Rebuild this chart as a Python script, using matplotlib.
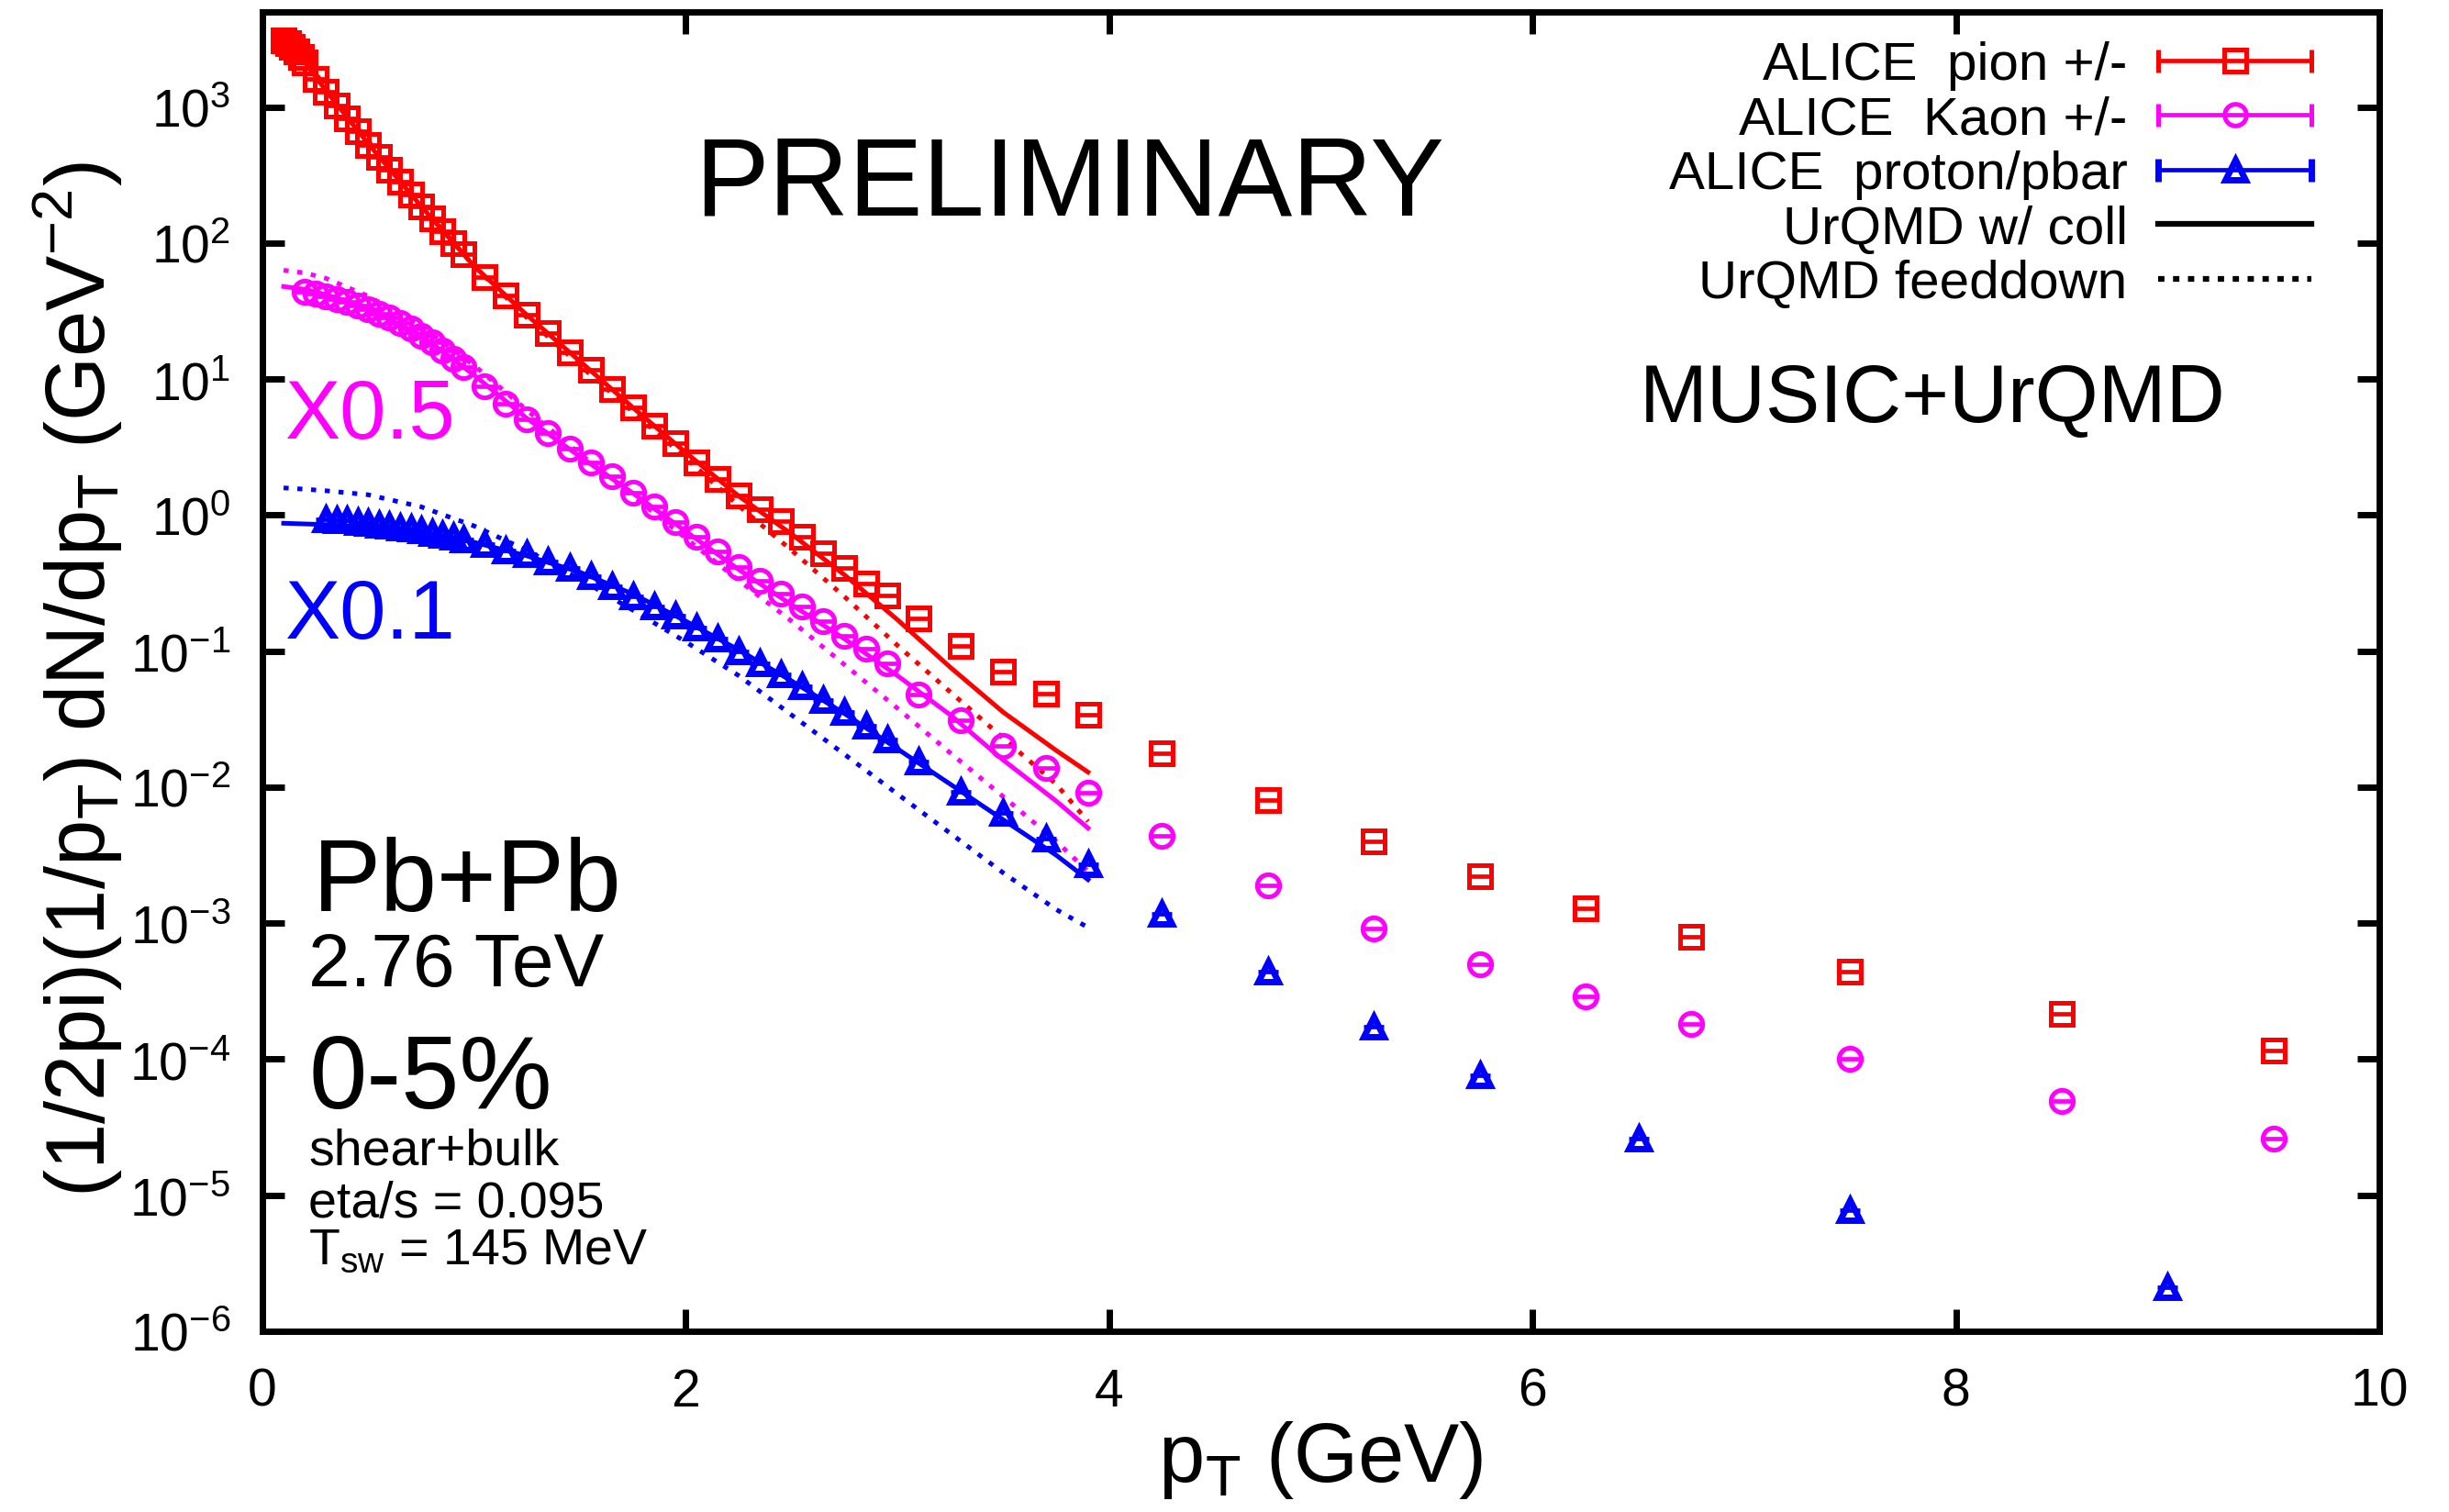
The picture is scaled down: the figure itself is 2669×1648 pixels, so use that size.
import numpy as np
import matplotlib
matplotlib.use('Agg')
import matplotlib.pyplot as plt
from matplotlib.ticker import FixedLocator, NullLocator, FuncFormatter
from matplotlib.legend_handler import HandlerErrorbar
from matplotlib.lines import Line2D

plt.rcParams['font.family'] = 'Liberation Sans'
plt.rcParams['mathtext.fontset'] = 'custom'
plt.rcParams['mathtext.rm'] = 'Liberation Sans'

# ---------------- data ----------------
# ALICE data points (kaons scaled x0.5, protons x0.1)
pt_pi = [0.10, 0.12, 0.14, 0.16, 0.18, 0.20, 0.25, 0.30, 0.35, 0.40, 0.45, 0.50,
         0.55, 0.60, 0.65, 0.70, 0.75, 0.80, 0.85, 0.90, 0.95, 1.05, 1.15, 1.25,
         1.35, 1.45, 1.55, 1.65, 1.75, 1.85, 1.95, 2.05, 2.15, 2.25, 2.35, 2.45,
         2.55, 2.65, 2.75, 2.85, 2.95, 3.1, 3.3, 3.5, 3.7, 3.9,
         4.25, 4.75, 5.25, 5.75, 6.25, 6.75, 7.5, 8.5, 9.5]
pion = [3090, 2950, 2750, 2570, 2340, 2140, 1620, 1290, 1020, 830, 660, 525,
        430, 347, 282, 229, 186, 151, 123, 100, 83, 56, 41, 29.5,
        21.9, 15.8, 11.7, 8.5, 6.2, 4.57, 3.39, 2.45, 1.84, 1.40, 1.10, 0.90,
        0.69, 0.525, 0.41, 0.316, 0.257, 0.174, 0.110, 0.0708, 0.049, 0.034,
        0.0178, 0.0080, 0.0040, 0.0022, 0.00128, 0.00080, 0.00044, 0.000215, 0.000115]

pt_ka = [0.20, 0.25, 0.30, 0.35, 0.40, 0.45, 0.50, 0.55, 0.60, 0.65, 0.70, 0.75,
         0.80, 0.85, 0.90, 0.95, 1.05, 1.15, 1.25, 1.35, 1.45, 1.55, 1.65, 1.75,
         1.85, 1.95, 2.05, 2.15, 2.25, 2.35, 2.45, 2.55, 2.65, 2.75, 2.85, 2.95,
         3.1, 3.3, 3.5, 3.7, 3.9,
         4.25, 4.75, 5.25, 5.75, 6.25, 6.75, 7.5, 8.5, 9.5]
kaon = [43.7, 42.7, 40.7, 38.9, 36.7, 34.7, 32.4, 30.2, 28.2, 25.7, 23.4, 20.9,
        18.6, 16.2, 14.1, 12.3, 8.9, 6.6, 5.1, 3.98, 3.09, 2.45, 1.93, 1.46,
        1.15, 0.89, 0.69, 0.537, 0.417, 0.331, 0.263, 0.214, 0.166, 0.130, 0.105, 0.081,
        0.048, 0.031, 0.020, 0.0138, 0.0091,
        0.0044, 0.0019, 0.00092, 0.00050, 0.00029, 0.000181, 0.000100, 0.000049, 0.000026]

pt_pr = [0.30, 0.35, 0.40, 0.45, 0.50, 0.55, 0.60, 0.65, 0.70, 0.75, 0.80, 0.85,
         0.90, 0.95, 1.05, 1.15, 1.25, 1.35, 1.45, 1.55, 1.65, 1.75, 1.85, 1.95,
         2.05, 2.15, 2.25, 2.35, 2.45, 2.55, 2.65, 2.75, 2.85, 2.95,
         3.1, 3.3, 3.5, 3.7, 3.9,
         4.25, 4.75, 5.25, 5.75, 6.5, 7.5, 9.0]
proton = [0.933, 0.923, 0.912, 0.891, 0.871, 0.851, 0.832, 0.813, 0.794, 0.767, 0.741, 0.716,
          0.692, 0.661, 0.61, 0.55, 0.513, 0.457, 0.407, 0.355, 0.302, 0.254, 0.214, 0.182,
          0.150, 0.123, 0.100, 0.081, 0.068, 0.055, 0.0437, 0.0355, 0.0282, 0.0224,
          0.0155, 0.0093, 0.0065, 0.0042, 0.0027,
          0.00117, 0.00044, 0.000174, 0.000076, 0.000026, 0.0000078, 0.0000021]

# UrQMD model curves
pt_model = [0.1, 0.2, 0.3, 0.5, 0.75, 1.0, 1.25, 1.5, 1.75, 2.0, 2.25, 2.5,
            2.75, 3.0, 3.25, 3.5, 3.75, 3.9]
pion_coll = [3300, 2140, 1320, 537, 186, 67.6, 29.5, 13.5, 6.17, 2.88, 1.38, 0.724,
             0.363, 0.170, 0.0759, 0.0355, 0.0186, 0.0129]
pion_feed = [3550, 2290, 1380, 562, 190, 67.6, 28.2, 12.6, 5.75, 2.63, 1.17, 0.55,
             0.251, 0.110, 0.050, 0.0229, 0.0105, 0.0056]
kaon_coll = [47.9, 45.7, 41.7, 33.1, 20.9, 10.7, 5.13, 2.69, 1.45, 0.759, 0.398, 0.219,
             0.123, 0.066, 0.0339, 0.0158, 0.0079, 0.0050]
kaon_feed = [63.1, 60.3, 55.0, 40.7, 24.5, 12.6, 5.89, 2.82, 1.38, 0.676, 0.331, 0.166,
             0.0794, 0.038, 0.0178, 0.0085, 0.0040, 0.0024]
proton_coll = [0.871, 0.861, 0.851, 0.813, 0.741, 0.631, 0.501, 0.380, 0.263, 0.166, 0.102, 0.0603,
               0.0347, 0.0191, 0.0105, 0.00575, 0.00316, 0.00209]
proton_feed = [1.585, 1.55, 1.51, 1.41, 1.15, 0.832, 0.55, 0.339, 0.20, 0.117, 0.066, 0.0339,
               0.0174, 0.0089, 0.00457, 0.00234, 0.00126, 0.00093]

RED, MAG, BLUE = '#ff0000', '#ff00ff', '#0000ff'

fig = plt.figure(figsize=(26.69, 16.49), dpi=100)
ax = fig.add_axes([0.10716, 0.11947, 0.86437, 0.87204])
ax.set_yscale('log')

# model curves
dots = (0, (1.1, 1.9))
for pts, c in [(pion_coll, RED), (kaon_coll, MAG), (proton_coll, BLUE)]:
    ax.plot(pt_model, pts, color=c, lw=3.6, zorder=2)
for pts, c in [(pion_feed, RED), (kaon_feed, MAG), (proton_feed, BLUE)]:
    ax.plot(pt_model, pts, color=c, lw=3.6, ls=dots, zorder=2)

# data points
series = [(pt_pi, pion, 's', RED, 17.5, 3.6),
          (pt_ka, kaon, 'o', MAG, 17.5, 3.6),
          (pt_pr, proton, '^', BLUE, 16, 5)]
for x, y, m, c, ms, mew in series:
    ax.plot(x, y, ls='none', marker=m, ms=ms, mew=mew, mfc='none', mec=c, zorder=3)
    ax.plot(x, y, ls='none', marker='_', ms=ms, mew=3.4, color=c, zorder=3)

# legend handles
eb_kw = dict(mfc='none', elinewidth=3.4, capsize=9, capthick=4)
h_pi = ax.errorbar([np.nan], [np.nan], xerr=[1.0], fmt='s', color=RED, ms=17, mew=3.6, **eb_kw)
h_ka = ax.errorbar([np.nan], [np.nan], xerr=[1.0], fmt='o', color=MAG, ms=17, mew=3.6, **eb_kw)
h_pr = ax.errorbar([np.nan], [np.nan], xerr=[1.0], fmt='^', color=BLUE, ms=16, mew=5, **eb_kw)
h_coll = Line2D([], [], color='black', lw=4.5)
h_feed = Line2D([], [], color='black', lw=4.5, ls=(0, (1.1, 1.5)))
herr = HandlerErrorbar(xerr_size=1.43)
leg = ax.legend([h_pi, h_ka, h_pr, h_coll, h_feed],
                ['ALICE  pion +/-', 'ALICE  Kaon +/-', 'ALICE  proton/pbar',
                 'UrQMD w/ coll', 'UrQMD feeddown'],
                handler_map={h_pi: herr, h_ka: herr, h_pr: herr},
                loc='upper right', bbox_to_anchor=(0.968, 0.9785), frameon=False,
                markerfirst=False, fontsize=42, handlelength=2.86, handletextpad=0.58,
                labelspacing=0.095, borderpad=0, borderaxespad=0)
for t in leg.get_texts():
    t.set_ha('right')

# axes
ax.set_xlim(0, 10)
ax.set_ylim(1e-6, 5e3)
ax.xaxis.set_major_locator(FixedLocator([0, 2, 4, 6, 8, 10]))
ax.yaxis.set_major_locator(FixedLocator([10.0 ** k for k in range(-6, 4)]))
ax.yaxis.set_minor_locator(NullLocator())
ax.yaxis.set_major_formatter(FuncFormatter(
    lambda v, p: r'$\mathregular{10^{%d}}$' % int(round(np.log10(v)))))
ax.tick_params(which='major', direction='in', length=17, width=5,
               top=True, right=True, labelsize=41)
ax.tick_params(axis='y', pad=25)
ax.tick_params(axis='x', pad=28)
for s in ax.spines.values():
    s.set_linewidth(5)

ax.set_xlabel(r'p$_\mathregular{T}$ (GeV)', fontsize=65, va='center')
ax.xaxis.set_label_coords(0.5, -0.097)
ax.set_ylabel(r'(1/2pi)(1/p$_\mathregular{T}$) dN/dp$_\mathregular{T}$ (GeV$^\mathregular{-2}$)',
              fontsize=65, va='center')
ax.yaxis.set_label_coords(-0.0871, 0.4944)

# annotations
tr = ax.transAxes
ax.text(0.2044, 0.847, 'PRELIMINARY', fontsize=87, transform=tr, va='baseline')
ax.text(0.6506, 0.6898, 'MUSIC+UrQMD', fontsize=64, transform=tr, va='baseline')
ax.text(0.0108, 0.6773, 'X0.5', fontsize=65, color=MAG, transform=tr, va='baseline')
ax.text(0.0108, 0.5257, 'X0.1', fontsize=65, color=BLUE, transform=tr, va='baseline')
ax.text(0.0238, 0.3190, 'Pb+Pb', fontsize=80, transform=tr, va='baseline')
ax.text(0.0217, 0.2625, '2.76 TeV', fontsize=59, transform=tr, va='baseline')
ax.text(0.0217, 0.1700, '0-5%', fontsize=82, transform=tr, va='baseline')
ax.text(0.0217, 0.1270, 'shear+bulk', fontsize=40, transform=tr, va='baseline')
ax.text(0.0217, 0.0870, 'eta/s = 0.095', fontsize=40, transform=tr, va='baseline')
ax.text(0.0217, 0.0515, r'T$_\mathregular{sw}$ = 145 MeV', fontsize=40, transform=tr, va='baseline')

fig.savefig('out.png', dpi=100)
